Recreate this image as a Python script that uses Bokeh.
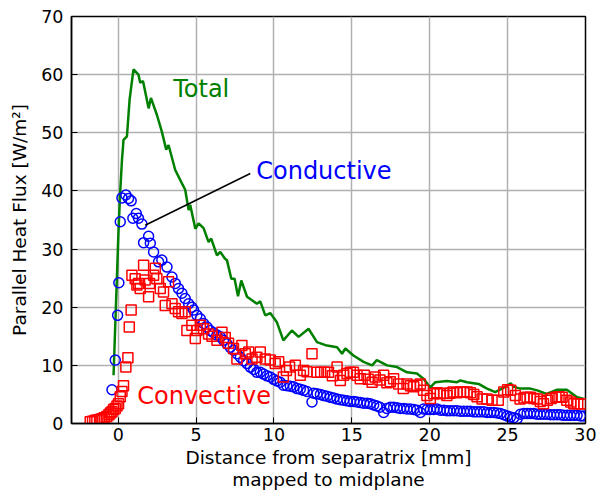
from bokeh.plotting import figure
from bokeh.models import FixedTicker, Range1d
from bokeh.embed import file_html
from bokeh.resources import INLINE
from bokeh.core.properties import value

# ---- data ----
cond_x = [-0.40, -0.19, -0.04, 0.04, 0.13, 0.24, 0.49, 0.66, 0.83, 0.94, 1.16, 1.30, 1.52, 1.63, 1.95,
          2.06, 2.27, 2.59, 2.80, 3.13, 3.45, 3.66, 3.87, 4.09, 4.30, 4.52, 4.73, 4.84, 5.05, 5.27,
          5.48, 5.70, 5.90, 6.12, 6.34, 6.55, 6.76, 6.98, 7.19, 7.40, 7.62, 7.84, 8.05, 8.27, 8.48,
          8.70, 8.90, 9.12, 9.33, 9.55, 9.76, 9.98, 10.19, 10.40, 10.60, 10.83, 11.05, 11.26, 11.48,
          11.69, 11.90, 12.12, 12.44, 12.55, 12.76, 12.98, 13.19, 13.40, 13.62, 13.83, 14.05, 14.26,
          14.47, 14.69, 14.90, 15.12, 15.33, 15.55, 15.76, 15.98, 16.18, 16.40, 16.61, 16.80, 17.04,
          17.25, 17.47, 17.68, 17.90, 18.11, 18.33, 18.54, 18.76, 18.97, 19.18, 19.40, 19.60, 19.82,
          20.04, 20.25, 20.47, 20.68, 20.90, 21.10, 21.30, 21.53, 21.75, 21.97, 22.18, 22.40, 22.61,
          22.83, 23.04, 23.25, 23.47, 23.68, 23.90, 24.11, 24.33, 24.54, 24.76, 24.97, 25.18, 25.40,
          25.61, 25.82, 26.04, 26.25, 26.46, 26.68, 26.89, 27.10, 27.32, 27.53, 27.75, 27.96, 28.18,
          28.39, 28.60, 28.82, 29.03, 29.25, 29.46, 29.68, 29.89]
cond_y = [5.8, 10.9, 18.6, 24.2, 34.7, 38.8, 39.3, 38.7, 38.3, 35.3, 36.1, 35.3, 34.3, 31.1, 32.2,
          31.0, 29.5, 27.8, 28.1, 26.9, 25.2, 24.1, 23.2, 22.4, 21.5, 20.6, 20.0, 19.5, 18.6, 18.0,
          17.2, 16.6, 16.0, 15.6, 15.2, 14.9, 14.3, 13.7, 13.1, 12.6, 12.0, 11.4, 10.8, 10.3, 9.7,
          9.3, 8.8, 8.8, 8.5, 8.2, 8.0, 7.6, 7.3, 7.1, 6.6, 6.5, 6.4, 6.3, 6.0,
          5.9, 5.7, 5.5, 3.7, 5.2, 5.1, 5.0, 4.8, 4.7, 4.5, 4.4, 4.2, 4.1,
          4.0, 3.9, 3.8, 3.8, 3.7, 3.6, 3.5, 3.5, 3.4, 3.2, 3.0, 2.8, 1.9,
          2.6, 2.8, 2.8, 2.7, 2.6, 2.6, 2.5, 2.5, 2.4, 2.3, 1.9, 2.5, 2.4,
          2.4, 2.4, 2.5, 2.3, 2.3, 2.2, 2.2, 2.2, 2.2, 2.1, 2.1, 2.1, 2.1,
          2.0, 2.0, 2.0, 2.0, 1.9, 1.9, 1.9, 1.8, 1.7, 1.5, 1.3, 1.1, 1.0,
          0.8, 1.6, 1.7, 1.7, 1.7, 1.7, 1.6, 1.6, 1.6, 1.6, 1.5, 1.5, 1.5,
          1.5, 1.4, 1.4, 1.4, 1.4, 1.4, 1.3, 1.3]

conv_x = [-1.80, -1.65, -1.50, -1.37, -1.20, -1.05, -0.90, -0.73, -0.60, -0.50, -0.40, -0.30, -0.19,
          -0.08, 0.02, 0.13, 0.24, 0.34, 0.49, 0.62, 0.71, 0.83, 0.88, 1.09, 1.20, 1.30, 1.41, 1.63,
          1.73, 1.95, 2.01, 2.27, 2.38, 2.48, 2.70, 2.91, 3.02, 3.23, 3.45, 3.66, 3.87, 4.09, 4.30,
          4.41, 4.73, 4.95, 5.05, 5.27, 5.48, 5.80, 6.02, 6.34, 6.66, 6.87, 7.08, 7.40, 7.62, 7.94,
          8.16, 8.38, 8.59, 8.90, 9.12, 9.44, 9.76, 10.08, 10.30, 10.60, 10.80, 11.00, 11.37, 11.69,
          11.90, 12.12, 12.44, 12.76, 13.00, 13.25, 13.50, 13.75, 14.05, 14.26, 14.47, 14.69, 14.90,
          15.10, 15.33, 15.54, 15.80, 16.05, 16.30, 16.50, 16.80, 17.04, 17.25, 17.47, 17.68, 18.00,
          18.30, 18.54, 18.76, 18.97, 19.18, 19.40, 19.60, 19.82, 20.04, 20.25, 20.47, 20.68, 20.90,
          21.10, 21.30, 21.50, 21.75, 21.97, 22.18, 22.40, 22.61, 22.83, 23.04, 23.36, 23.68, 24.00,
          24.40, 24.75, 25.00, 25.20, 25.50, 25.80, 26.05, 26.25, 26.46, 26.68, 26.90, 27.10, 27.30,
          27.55, 27.80, 28.10, 28.30, 28.50, 28.80, 29.05, 29.25, 29.50, 29.70, 29.90]
conv_y = [0.3, 0.4, 0.5, 0.6, 0.7, 0.8, 1.0, 1.2, 1.5, 1.8, 2.0, 2.4, 2.6,
          3.0, 3.4, 4.6, 5.5, 6.5, 9.7, 11.3, 16.6, 19.5, 25.5, 24.9, 23.8, 24.1, 23.2, 27.2,
          24.7, 21.8, 24.1, 25.5, 26.7, 24.9, 23.2, 22.6, 20.3, 24.4, 20.6, 19.8, 19.2, 18.9, 19.2,
          16.0, 16.9, 14.6, 16.0, 16.9, 16.3, 15.4, 15.0, 14.3, 15.7, 14.8, 13.8, 12.9, 11.1, 13.4,
          12.0, 12.3, 11.1, 11.4, 12.3, 11.1, 10.9, 10.3, 10.6, 8.0, 9.1, 9.7, 10.0, 8.3,
          9.1, 8.9, 12.0, 8.8, 8.8, 8.8, 8.8, 8.2, 9.7, 7.4, 8.3, 8.6, 8.8,
          8.8, 8.3, 7.7, 8.3, 7.6, 7.1, 8.0, 7.5, 8.3, 7.0, 7.2, 7.7, 6.8,
          6.0, 6.8, 6.5, 6.3, 6.6, 6.8, 5.7, 4.8, 4.3, 5.1, 5.3, 5.1, 5.2,
          4.8, 5.2, 5.4, 5.3, 5.4, 5.4, 5.4, 5.3, 5.0, 4.6, 4.2, 4.2, 4.0,
          4.0, 5.4, 5.8, 5.7, 4.8, 4.2, 4.4, 4.5, 4.5, 4.3, 4.2, 3.8, 3.4,
          4.0, 4.3, 4.5, 4.6, 4.5, 4.0, 3.7, 3.4, 3.4, 3.4, 3.4]

total_x = [-0.30, -0.15, 0.02, 0.13, 0.24, 0.34, 0.56, 0.73, 0.98, 1.30, 1.41, 1.59, 1.95, 2.10,
           2.48, 2.80, 3.08, 3.23, 3.66, 4.09, 4.30, 4.52, 4.62, 4.95, 5.16, 5.48, 5.80, 5.97,
           6.34, 6.55, 6.87, 6.98, 7.26, 7.47, 7.69, 7.90, 8.27, 8.59, 8.90, 9.12, 9.44, 9.76,
           10.19, 10.60, 11.15, 11.58, 12.22, 12.76, 13.40, 14.05, 14.37, 14.58, 15.10, 15.75,
           16.30, 16.60, 17.26, 17.90, 18.54, 19.18, 19.60, 20.04, 20.36, 21.10, 21.75, 21.97,
           22.40, 23.14, 23.68, 24.20, 24.64, 25.20, 25.40, 25.82, 26.46, 26.90, 27.50, 28.18,
           28.80, 29.46, 29.90]
total_y = [8.3, 20.0, 33.3, 40.0, 45.3, 48.8, 49.4, 55.7, 60.9, 60.0, 58.6, 58.9, 54.2, 56.0,
           53.1, 50.2, 47.1, 47.9, 43.6, 41.3, 40.2, 36.7, 37.6, 33.5, 34.4, 33.6, 31.2, 31.8,
           28.9, 29.5, 28.3, 28.1, 24.9, 24.9, 21.9, 24.6, 21.8, 21.2, 20.6, 21.0, 18.6, 19.0,
           17.4, 14.3, 16.0, 14.9, 16.3, 14.0, 13.4, 13.1, 12.0, 12.9, 11.7, 10.6,
           10.0, 10.9, 10.0, 9.7, 8.8, 8.6, 7.7, 6.2, 7.1, 7.3, 7.1, 7.4,
           7.1, 6.8, 6.0, 5.4, 6.0, 6.9, 6.3, 6.0, 6.0, 5.7, 5.1, 5.8,
           5.8, 4.5, 4.2]

x_ticks = [0, 5, 10, 15, 20, 25, 30]
y_ticks = [0, 10, 20, 30, 40, 50, 60, 70]

# annotation placements
label_total = (3.53, 57.6)
label_cond = (8.86, 43.4)
label_conv = (1.22, 4.8)
pointer_x = [1.73, 8.48]
pointer_y = [34.1, 43.0]

FONT = "DejaVu Sans"

p = figure(width=602, height=495, output_backend="svg", toolbar_location=None,
           x_range=Range1d(-3, 30), y_range=Range1d(0, 70),
           min_border_left=71, min_border_right=17, min_border_top=16, min_border_bottom=72)
p.background_fill_color = "white"
p.border_fill_color = "white"
p.outline_line_color = "black"
p.outline_line_width = 1.5
p.outline_line_alpha = 1

p.xaxis.ticker = FixedTicker(ticks=x_ticks)
p.yaxis.ticker = FixedTicker(ticks=y_ticks)
p.xgrid.ticker = FixedTicker(ticks=x_ticks)
p.ygrid.ticker = FixedTicker(ticks=y_ticks)
for ax in (p.xaxis, p.yaxis):
    ax.minor_tick_line_color = None
    ax.major_tick_in = 6
    ax.major_tick_out = 0
    ax.major_tick_line_color = "black"
    ax.axis_line_color = "black"
    ax.axis_line_width = 1.5
    ax.major_label_text_font = FONT
    ax.major_label_text_font_size = "17.5px"
    ax.major_label_text_color = "black"
    ax.axis_label_text_font = FONT
    ax.axis_label_text_font_size = "18.5px"
    ax.axis_label_text_font_style = "normal"
    ax.axis_label_text_color = "black"
    ax.axis_label_text_line_height = 1.05

p.xaxis.axis_label = "Distance from separatrix [mm]\nmapped to midplane"
p.yaxis.axis_label = "Parallel Heat Flux [W/m²]"
p.xaxis.major_label_standoff = 4
p.xaxis.axis_label_standoff = 3
p.yaxis.major_label_standoff = 8
p.yaxis.axis_label_standoff = 8

p.xgrid.grid_line_color = "#b0b0b0"
p.ygrid.grid_line_color = "#b0b0b0"
p.xgrid.grid_line_alpha = 1.0
p.ygrid.grid_line_alpha = 1.0
p.xgrid.grid_line_width = 1.5
p.ygrid.grid_line_width = 1.5

p.line(total_x, total_y, line_color="green", line_width=2.5)
p.scatter(cond_x, cond_y, marker="circle", size=10, fill_color=None,
          line_color="blue", line_width=1.5)
p.scatter(conv_x, conv_y, marker="square", size=10, fill_color=None,
          line_color="red", line_width=1.5)

p.line(pointer_x, pointer_y, line_color="black", line_width=1.5)

p.text([label_total[0]], [label_total[1]], text=["Total"], text_color="green",
       text_font=value(FONT), text_font_size="24px", text_baseline="middle", text_align="left")
p.text([label_cond[0]], [label_cond[1]], text=["Conductive"], text_color="blue",
       text_font=value(FONT), text_font_size="24px", text_baseline="middle", text_align="left")
p.text([label_conv[0]], [label_conv[1]], text=["Convective"], text_color="red",
       text_font=value(FONT), text_font_size="24px", text_baseline="middle", text_align="left")

open("out.html", "w").write(file_html(p, INLINE))
